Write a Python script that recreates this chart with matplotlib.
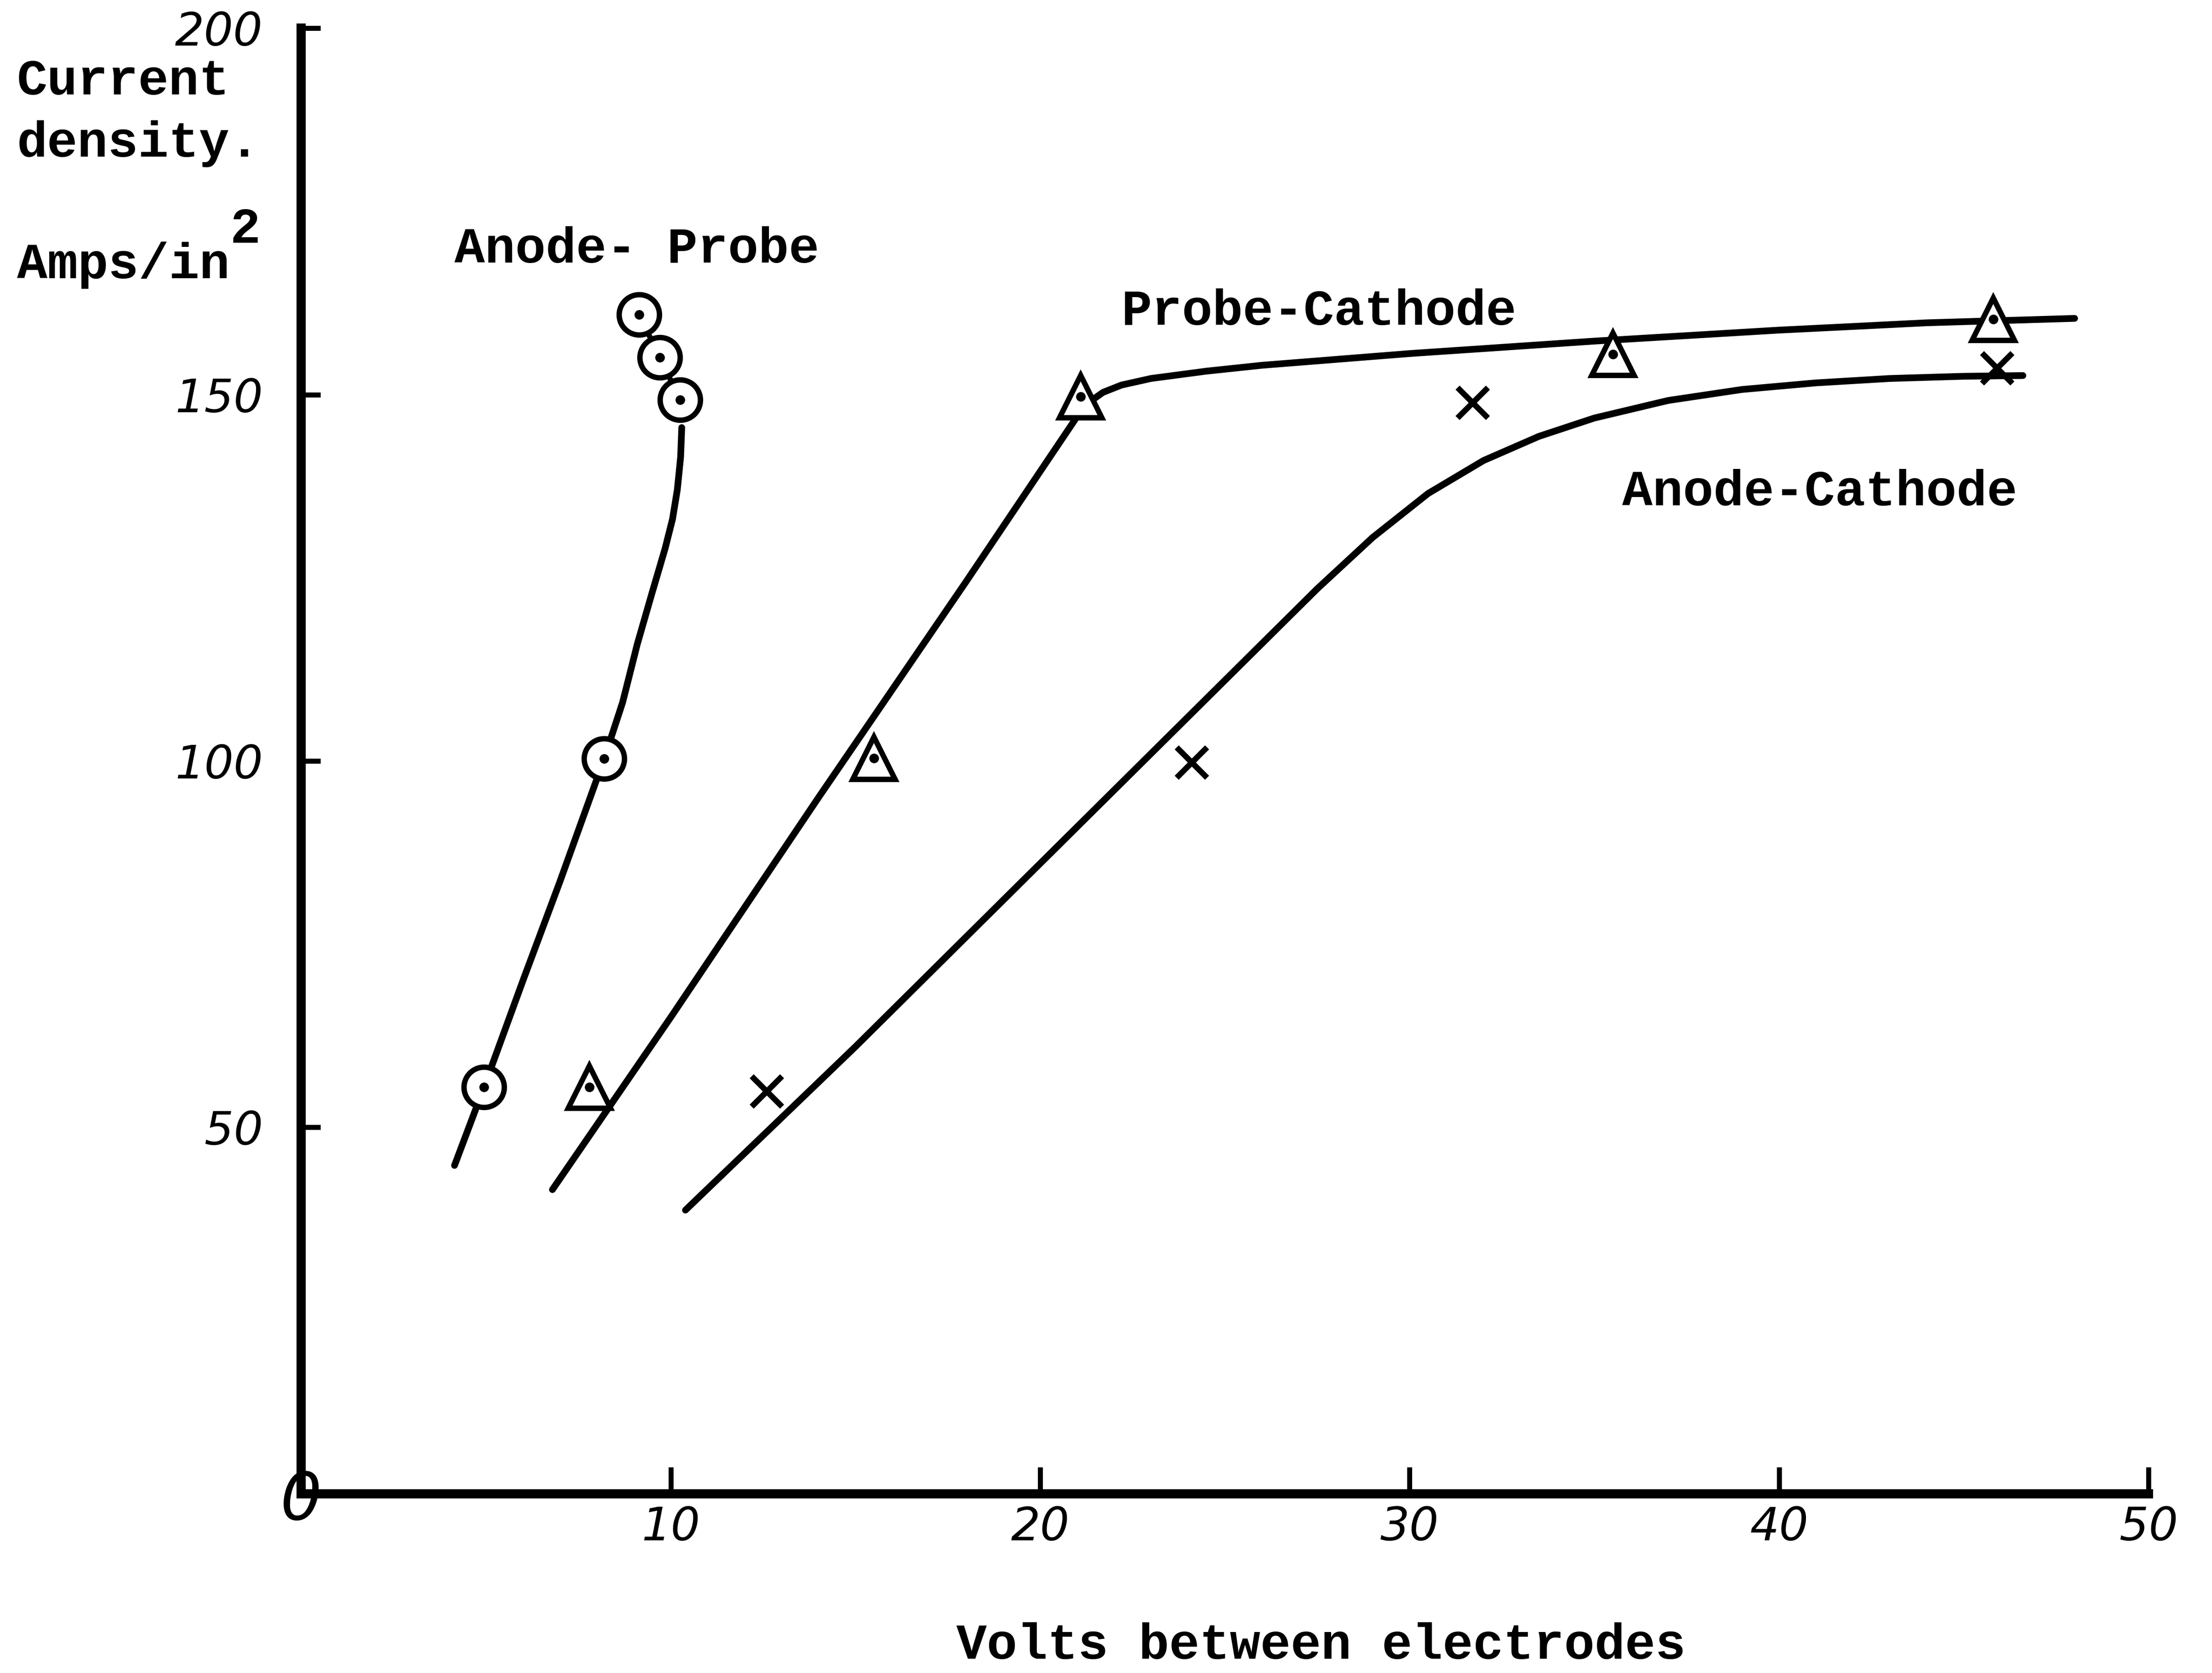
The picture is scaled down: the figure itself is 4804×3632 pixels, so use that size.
import matplotlib
matplotlib.use("Agg")
import matplotlib.pyplot as plt

# Measured points (volts, amps per square inch)
ap_volts = [4.95, 8.2, 10.25, 9.71, 9.14]
ap_current = [55.5, 100.3, 149.3, 155.1, 160.9]

pc_volts = [7.8, 15.5, 21.1, 35.5, 45.8]
pc_current = [55.5, 100.4, 149.7, 155.5, 160.3]

ac_volts = [12.6, 24.1, 31.7, 45.9]
ac_current = [54.9, 99.8, 148.9, 153.6]

# Hand-fitted curves through the measurements
ap_curve_v = [4.15, 4.95, 6.0, 7.0, 8.2, 8.7, 9.1, 9.5, 9.85, 10.05, 10.18, 10.27, 10.3]
ap_curve_i = [44.8, 55.5, 70.0, 83.5, 100.3, 108.0, 116.0, 123.0, 129.0, 133.0, 137.0, 141.5, 145.5]

pc_curve_v = [6.8, 10.0, 14.0, 18.0, 21.2, 21.7, 22.2, 23.0, 24.5, 26.0, 30.0, 35.0, 40.0, 44.0, 48.0]
pc_curve_i = [41.5, 65.0, 95.0, 124.5, 148.5, 150.3, 151.3, 152.2, 153.2, 154.0, 155.6, 157.3, 158.8, 159.8, 160.4]

ac_curve_v = [10.4, 15.0, 20.0, 25.0, 27.5, 29.0, 30.5, 32.0, 33.5, 35.0, 37.0, 39.0, 41.0, 43.0, 45.0, 46.6]
ac_curve_i = [38.7, 61.0, 86.0, 111.0, 123.5, 130.5, 136.5, 141.0, 144.3, 146.8, 149.2, 150.7, 151.6, 152.2, 152.5, 152.6]

x_ticks = [10, 20, 30, 40, 50]
x_tick_labels = ["10", "20", "30", "40", "50"]
y_ticks = [50, 100, 150, 200]
y_tick_labels = ["50", "100", "150", "200"]

TYPE = dict(family="Liberation Mono", weight="bold", fontsize=26.4, color="black")
HAND = dict(family="DejaVu Sans", style="italic", color="black")

fig = plt.figure(figsize=(4804 / 300, 3632 / 300), dpi=300)
fig.patch.set_facecolor("white")
ax = fig.add_axes([213.5 / 1568, 1 - 1058 / 1185, (1523 - 213.5) / 1568, (1058 - 20) / 1185])
ax.set_xlim(0, 50)
ax.set_ylim(0, 200)
ax.set_facecolor("none")

for side in ("top", "right"):
    ax.spines[side].set_visible(False)
for side in ("left", "bottom"):
    ax.spines[side].set_linewidth(4.8)
    ax.spines[side].set_capstyle("projecting")
ax.spines["bottom"].set_bounds(0, 50)
ax.spines["left"].set_bounds(0, 200)

ax.set_xticks(x_ticks)
ax.set_xticklabels(x_tick_labels, **HAND, fontsize=24)
ax.set_yticks(y_ticks)
ax.set_yticklabels(y_tick_labels, **HAND, fontsize=24)
ax.tick_params(axis="x", direction="in", length=14, width=2.6, pad=6)
ax.tick_params(axis="y", direction="in", length=10, width=2.6, pad=20)

line_kw = dict(color="black", lw=3.5, solid_capstyle="round", solid_joinstyle="round", zorder=2)
ax.plot(ap_curve_v, ap_curve_i, **line_kw)
ax.plot(pc_curve_v, pc_curve_i, **line_kw)
ax.plot(ac_curve_v, ac_curve_i, **line_kw)

# short links between the clustered anode-probe readings
ax.plot(ap_volts[2:], ap_current[2:], color="black", lw=2.8, zorder=2)

ax.plot(ap_volts, ap_current, ls="none", marker="o", ms=21, mfc="white", mec="black", mew=2.8, zorder=3)
ax.plot(pc_volts, pc_current, ls="none", marker="^", ms=22, mfc="white", mec="black", mew=2.8, zorder=3)
ax.plot(ap_volts + pc_volts, ap_current + pc_current, ls="none", marker="o", ms=4,
        color="black", zorder=4)
ax.plot(ac_volts, ac_current, ls="none", marker="x", ms=16, mec="black", mew=3.0, zorder=3)

# origin mark
ax.text(0, -1.0, "0", **HAND, fontsize=34, ha="center", va="center", zorder=5)

# curve labels
fig.text(322 / 1568, 1 - 186 / 1185, "Anode- Probe", ha="left", va="baseline", **TYPE)
fig.text(795 / 1568, 1 - 230 / 1185, "Probe-Cathode", ha="left", va="baseline", **TYPE)
fig.text(1150 / 1568, 1 - 358 / 1185, "Anode-Cathode", ha="left", va="baseline", **TYPE)

# axis titles
fig.text(12 / 1568, 1 - 67 / 1185, "Current", ha="left", va="baseline", **TYPE)
fig.text(12 / 1568, 1 - 111 / 1185, "density.", ha="left", va="baseline", **TYPE)
fig.text(12 / 1568, 1 - 197 / 1185, "Amps/in", ha="left", va="baseline", **TYPE)
fig.text(163 / 1568, 1 - 172 / 1185, "2", ha="left", va="baseline", **TYPE)
fig.text(678 / 1568, 1 - 1175 / 1185, "Volts between electrodes", ha="left", va="baseline", **TYPE)

fig.savefig("out.png", dpi=300, facecolor="white")
